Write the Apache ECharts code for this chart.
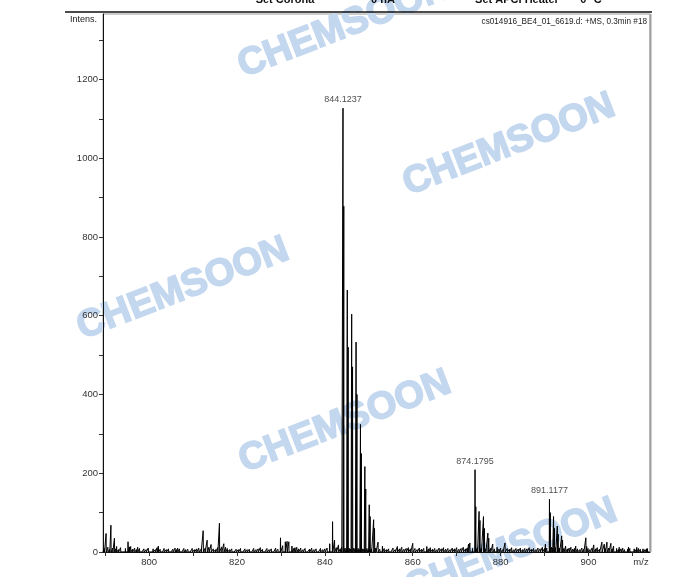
<!DOCTYPE html>
<html>
<head>
<meta charset="utf-8">
<script src="https://cdn.jsdelivr.net/npm/echarts@6/dist/echarts.min.js"></script>
<style>html,body{margin:0;padding:0;background:#fff}#c{width:688px;height:577px}</style>
</head>
<body>
<div id="c"></div>
<script>
// ---- data (m/z, intensity) ----
const peaks = [
  [790.2,47],[791.3,68],[792.1,35],[792.6,14],[795.2,26],[795.8,14],[797.4,12],[802.1,15],[806.5,10],
  [812.3,54],[813.2,30],[814.1,19],[816.0,73],[817.0,21],[817.4,12],
  [829.9,36],[830.4,16],[831.0,26],[831.4,27],[831.8,26],[832.5,15],[833.6,12],
  [841.1,21],[841.75,77],[842.2,30],[843.1,18],
  [844.1237,1127],[844.3,878],[845.1,665],[845.3,520],[846.1,604],[846.3,470],[847.1,533],[847.3,400],
  [848.1,324],[848.3,250],[849.1,217],[849.3,160],[850.1,120],[850.3,90],[851.1,82],[851.3,60],[852.1,25],[853.1,15],
  [856.5,14],[860.0,22],[863.2,14],[872.7,20],[873.0,23],
  [874.1795,209],[874.35,115],[875.1,103],[875.3,80],[876.1,90],[876.3,60],[877.1,48],[877.3,35],[878.2,20],[879.2,12],
  [881.0,23],[890.2,20],
  [891.1177,134],[891.3,100],[892.05,90],[892.25,60],[892.9,66],[893.1,45],[893.9,41],[894.1,30],[894.8,15],
  [896.0,12],[897.1,15],[899.4,36],[899.6,14],[901.2,18],[903.05,25],[903.6,20],[904.2,25],[905.1,22],[905.7,15],
  [907.0,12],[909.1,12],[911.0,12],[913.2,8]
];
const noise = [
  [789.8,9],[790.6,12],[791.0,7],[791.7,10],[792.4,8],[793.0,6],[793.5,11],[794.0,5],[794.6,9],[795.5,13],
  [796.2,7],[796.7,10],[797.1,6],[797.8,9],[798.3,5],[798.8,8],[799.3,6],[799.8,10],[800.4,5],[800.9,8],
  [801.4,6],[801.8,11],[802.5,7],[803.0,5],[803.4,9],[803.9,6],[804.4,8],[804.9,5],[805.4,7],[805.9,10],
  [806.2,6],[806.9,8],[807.4,5],[807.9,9],[808.3,6],[808.8,7],[809.3,5],[809.8,9],[810.3,6],[810.8,8],
  [811.3,10],[811.8,7],[812.7,9],[813.6,12],[814.6,8],[815.1,6],[815.6,11],[816.5,13],[817.8,9],[818.3,6],
  [818.8,8],[819.3,5],[819.8,7],[820.3,6],[820.8,9],[821.3,5],[821.8,8],[822.3,6],[822.8,7],[823.3,5],
  [823.8,9],[824.3,6],[824.8,8],[825.3,11],[825.8,7],[826.3,5],[826.8,9],[827.3,6],[827.8,8],[828.3,5],
  [828.8,10],[829.3,7],[832.9,9],[833.2,11],[834.0,8],[834.5,10],[835.0,6],[835.5,9],[836.0,5],[836.5,7],
  [837.0,10],[837.5,6],[838.0,8],[838.5,5],[839.0,9],[839.5,6],[840.0,8],[840.5,10],[842.6,11],[843.5,8],
  [843.8,12],[844.6,10],[844.9,8],[845.6,9],[845.9,7],[846.6,10],[846.9,8],[847.6,9],[847.9,6],[848.6,8],
  [848.9,7],[849.6,9],[849.9,6],[850.6,8],[851.6,10],[852.5,7],[853.5,9],[854.0,6],[854.5,8],[855.0,5],
  [855.5,10],[856.0,6],[857.0,8],[857.5,12],[858.0,7],[858.5,9],[859.0,11],[859.5,8],[860.5,9],[861.0,6],
  [861.5,10],[862.0,7],[862.5,9],[863.6,8],[864.0,11],[864.5,7],[865.0,9],[865.5,6],[866.0,10],[866.5,8],
  [867.0,11],[867.5,7],[868.0,9],[868.5,6],[869.0,10],[869.5,8],[870.0,11],[870.5,7],[871.0,9],[871.5,12],
  [872.0,8],[872.4,10],[873.6,9],[874.7,11],[875.6,10],[876.6,8],[877.7,9],[878.6,8],[879.6,7],[880.0,10],
  [880.5,6],[881.5,9],[882.0,7],[882.5,11],[883.0,6],[883.5,9],[884.0,7],[884.5,10],[885.0,6],[885.5,9],
  [886.0,8],[886.5,11],[887.0,7],[887.5,9],[888.0,6],[888.5,10],[889.0,8],[889.5,12],[890.0,9],[890.5,10],
  [891.6,12],[891.8,9],[892.5,11],[893.4,10],[894.4,9],[895.2,8],[895.6,10],[896.4,7],[896.8,9],[897.5,8],
  [898.0,6],[898.5,10],[898.9,7],[899.9,9],[900.3,6],[900.8,10],[901.6,8],[902.0,11],[902.5,7],[903.8,9],
  [904.6,10],[905.4,8],[906.4,9],[906.8,6],[907.4,8],[907.8,10],[908.2,6],[908.9,7],[909.4,9],[909.8,5],
  [910.4,8],[910.8,6],[911.4,9],[911.8,7],[912.4,8],[912.8,6],[913.4,9]
];
const labeledPeaks = [[844.1237,1127],[874.1795,209],[891.1177,134]];
const xLabelValues = [800,820,840,860,880,900];
const xTickValues = [790,800,810,820,830,840,850,860,870,880,890,900,910];
const yLabelValues = [0,200,400,600,800,1000,1200];
const yTickValues = [0,100,200,300,400,500,600,700,800,900,1000,1100,1200,1300];
const title = 'cs014916_BE4_01_6619.d: +MS, 0.3min #18';

// build spectrum trace: each stick as a narrow triangle on the baseline
const sticks = peaks.concat(noise).sort((a,b)=>a[0]-b[0]);
const trace = [];
const hw = 0.05;
sticks.forEach(p => { trace.push([p[0]-hw,0],[p[0],p[1]],[p[0]+hw,0]); });
trace.unshift([789.5,0]); trace.push([914,0]);

const wmColor = '#c3d7ef';
const wmFont = 'bold 38px "Liberation Sans", Arial, sans-serif';
const wm = (x,y) => ({type:'text', x:x, y:y, rotation:0.37, z:0, silent:true,
  style:{text:'CHEMSOON', x:0, y:0, font:wmFont, fill:wmColor, stroke:wmColor, lineWidth:1.6,
    textAlign:'center', textVerticalAlign:'middle'}});

const chart = echarts.init(document.getElementById('c'), null, {renderer:'canvas'});
chart.setOption({
  animation:false,
  backgroundColor:'#fff',
  grid:{left:103, right:38, top:14, bottom:25, show:true, borderColor:'#9a9a9a', borderWidth:1, backgroundColor:'transparent'},
  xAxis:{type:'value', min:789.5, max:914,
    axisLine:{onZero:false, lineStyle:{color:'#111', width:1}},
    axisTick:{customValues:xTickValues, length:4, lineStyle:{color:'#333'}},
    axisLabel:{customValues:xLabelValues, fontSize:9.5, color:'#333', margin:5, fontFamily:'"Liberation Sans", Arial',
      formatter:v=>String(v)},
    splitLine:{show:false}},
  yAxis:{type:'value', min:0, max:1366,
    axisLine:{show:true, lineStyle:{color:'#111', width:1}},
    axisTick:{show:true, customValues:yTickValues, length:4, lineStyle:{color:'#333'}},
    axisLabel:{customValues:yLabelValues, fontSize:9.5, color:'#333', margin:5, fontFamily:'"Liberation Sans", Arial',
      formatter:v=>String(v)},
    splitLine:{show:false}},
  series:[
    {type:'line', data:trace, showSymbol:false, symbol:'none', sampling:'none', z:3,
      lineStyle:{color:'#000', width:1}, silent:true},
    {type:'scatter', data:labeledPeaks, symbolSize:0, z:4, silent:true,
      label:{show:true, position:'top', distance:4, fontSize:9, color:'#222',
        fontFamily:'"Liberation Sans", Arial', formatter:p=>p.value[0].toFixed(4)}}
  ],
  graphic:[
    wm(344,27), wm(509,145), wm(183,289), wm(345,422), wm(511,550),
    {type:'text', x:285, y:0, z:5, style:{text:'Set Corona', font:'bold 11px "Liberation Sans", Arial', fill:'#111', textAlign:'center', textVerticalAlign:'middle'}},
    {type:'text', x:383, y:0, z:5, style:{text:'0 nA', font:'bold 11px "Liberation Sans", Arial', fill:'#111', textAlign:'center', textVerticalAlign:'middle'}},
    {type:'text', x:517, y:0, z:5, style:{text:'Set APCI Heater', font:'bold 11px "Liberation Sans", Arial', fill:'#111', textAlign:'center', textVerticalAlign:'middle'}},
    {type:'text', x:591, y:0, z:5, style:{text:'0 °C', font:'bold 11px "Liberation Sans", Arial', fill:'#111', textAlign:'center', textVerticalAlign:'middle'}},
    {type:'line', z:5, shape:{x1:65, y1:12, x2:652, y2:12}, style:{stroke:'#111', lineWidth:1.5}},
    {type:'line', z:5, shape:{x1:650.5, y1:14, x2:650.5, y2:552}, style:{stroke:'#a0a0a0', lineWidth:2}},
    {type:'text', x:70, y:20, z:5, style:{text:'Intens.', font:'9px "Liberation Sans", Arial', fill:'#222', textVerticalAlign:'middle'}},
    {type:'text', x:647, y:22, z:5, style:{text:title, font:'8.2px "Liberation Sans", Arial', fill:'#222', textAlign:'right', textVerticalAlign:'middle'}},
    {type:'text', x:641, y:562, z:5, style:{text:'m/z', font:'9.5px "Liberation Sans", Arial', fill:'#333', textAlign:'center', textVerticalAlign:'middle'}}
  ]
});
</script>
</body>
</html>
